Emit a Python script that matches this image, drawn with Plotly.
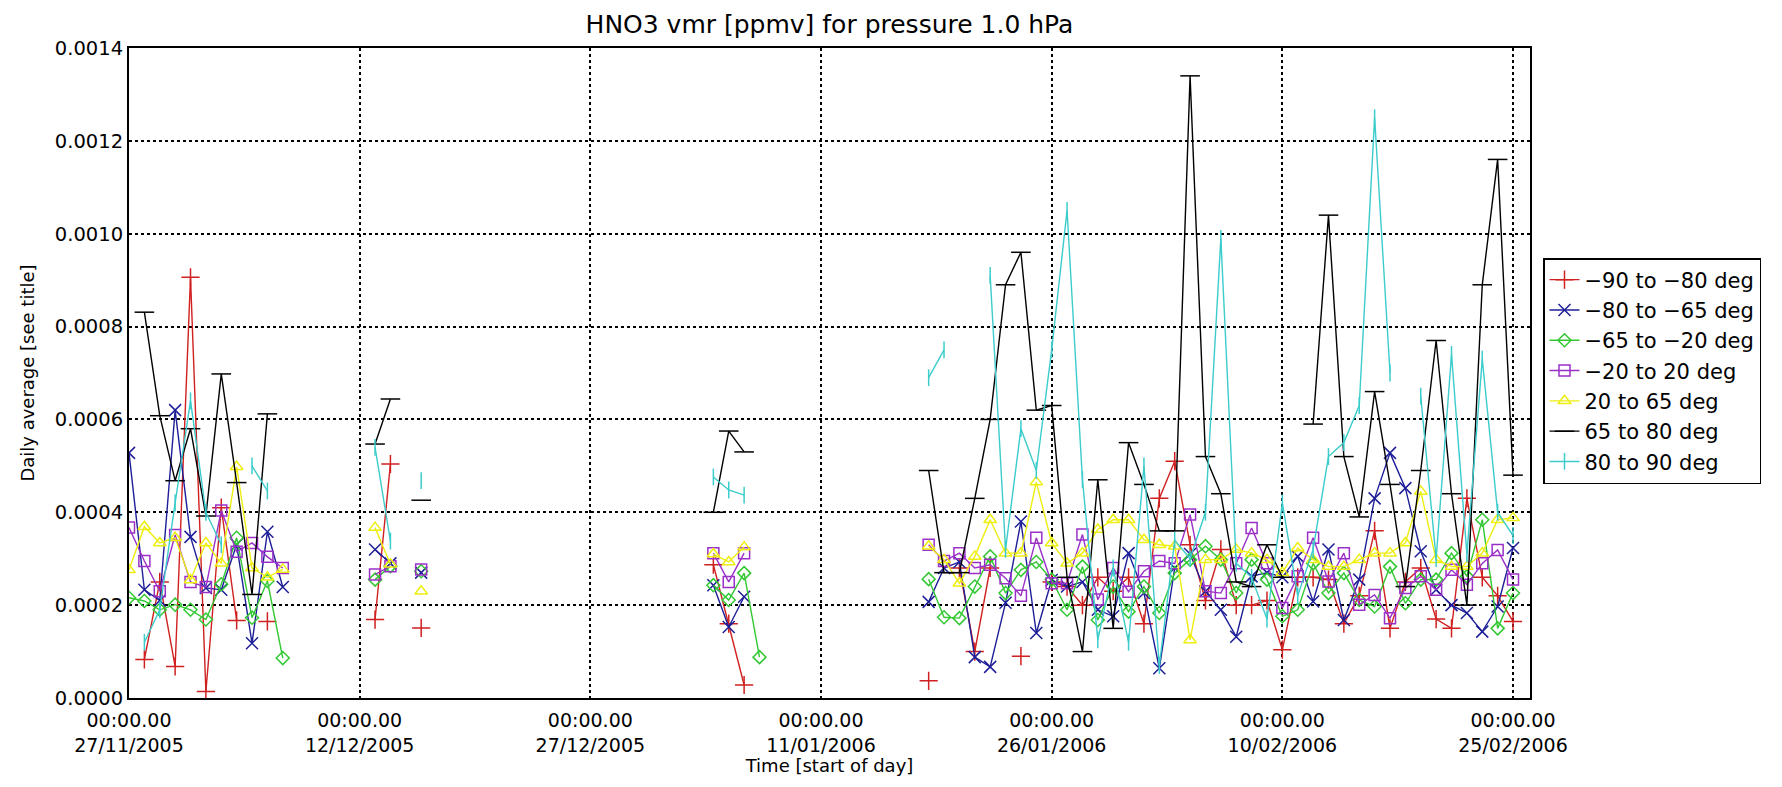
import pandas as pd
import plotly.graph_objects as go

# one entry per day from 27/11/2005 (index 0) to 25/02/2006 (index 90); None = no data
dates = pd.date_range("2005-11-27", periods=91, freq="D")
N = None

red = [N, 0.000083, 0.00025, 0.000068, 0.000906, 0.000014, 0.00041, 0.000167, N, 0.000165, N,
       N, N, N, N, N, 0.000169, 0.000504, N, 0.000151,
       N, N, N, N, N, N, N, N, N, N, N, N, N, N, N, N, N, N,
       0.000287, 0.00016, 0.000028, N,
       N, N, N, N, N, N, N, N, N, N,
       0.000037, N, 0.00028, 0.0001, 0.00028, N, 0.00009, N, 0.00025, 0.00024,
       0.0002, 0.00026, 0.00023, 0.00026, 0.00016, 0.00043, 0.00051, 0.00033, 0.00021, 0.00032,
       0.0002, 0.0002, 0.00021, 0.000104, 0.00026, 0.00026, 0.000255, 0.00016, 0.00022, 0.00036,
       0.00015, 0.00025, 0.00028, 0.00017, 0.00015, 0.00043, 0.00026, 0.00022, 0.000165]

blue = [0.000528, 0.000233, 0.00021, 0.00062, 0.000347, 0.000237, 0.000233, 0.00033, 0.000118, 0.000358, 0.000239,
        N, N, N, N, N, 0.00032, 0.00029, N, 0.00027,
        N, N, N, N, N, N, N, N, N, N, N, N, N, N, N, N, N, N,
        0.000243, 0.000153, 0.000218, N,
        N, N, N, N, N, N, N, N, N, N,
        0.000207, 0.00028, 0.000293, 0.000088, 0.000067, 0.000205, 0.00038, 0.00014, 0.000254, 0.00024,
        0.00025, 0.00019, 0.000176, 0.000312, 0.000226, 0.000064, 0.00028, 0.00031, 0.00023, 0.00019,
        0.000132, 0.000262, 0.00027, 0.00026, 0.000305, 0.000208, 0.00032, 0.000168, 0.000255, 0.00043,
        0.000528, 0.000452, 0.000316, 0.000233, 0.0002, 0.000183, 0.000143, 0.000197, 0.000323]

green = [0.000216, 0.000209, 0.00019, 0.000201, 0.00019, 0.000169, 0.000245, 0.000345, 0.000173, 0.000252, 0.000086,
         N, N, N, N, N, 0.000255, 0.000284, N, 0.000273,
         N, N, N, N, N, N, N, N, N, N, N, N, N, N, N, N, N, N,
         0.000243, 0.000211, 0.000269, 0.000088,
         N, N, N, N, N, N, N, N, N, N,
         0.000256, 0.000174, 0.000172, 0.00024, 0.000305, 0.000226, 0.000276, 0.000293, 0.000255, 0.00019,
         0.000283, 0.000168, 0.00024, 0.000186, 0.00024, 0.000183, 0.000269, 0.000298, 0.000327, 0.000298,
         0.000226, 0.000298, 0.000255, 0.000176, 0.00019, 0.00029, 0.000226, 0.000269, 0.000211, 0.000197,
         0.000283, 0.000204, 0.000255, 0.000255, 0.000312, 0.000262, 0.000384, 0.00015, 0.000226]

purple = [0.000367, 0.000295, 0.00023, 0.000351, 0.00025, 0.000239, 0.000404, 0.000315, 0.000334, 0.000304, 0.00028,
          N, N, N, N, N, 0.000266, 0.000284, N, 0.000277,
          N, N, N, N, N, N, N, N, N, N, N, N, N, N, N, N, N, N,
          0.000312, 0.00025, 0.000312, N,
          N, N, N, N, N, N, N, N, N, N,
          0.00033, 0.000295, 0.000312, 0.00028, 0.000287, 0.000258, 0.00022, 0.000345, 0.000247, 0.000247,
          0.000352, 0.000212, 0.00028, 0.000229, 0.000273, 0.000295, 0.00029, 0.000395, 0.00023, 0.000226,
          0.00029, 0.000366, 0.00029, 0.000194, 0.000262, 0.000345, 0.000251, 0.000312, 0.000201, 0.000222,
          0.000172, 0.000237, 0.000262, 0.000233, 0.000276, 0.000244, 0.00029, 0.000319, 0.000255]

yellow = [0.000276, 0.000369, 0.000334, 0.000345, 0.000254, 0.000334, 0.00029, 0.000498, 0.00028, 0.00026, 0.000277,
          N, N, N, N, N, 0.000367, 0.000288, N, 0.00023,
          N, N, N, N, N, N, N, N, N, N, N, N, N, N, N, N, N, N,
          0.00031, 0.000293, 0.000325, N,
          N, N, N, N, N, N, N, N, N, N,
          0.000327, 0.000298, 0.000247, 0.000305, 0.000384, 0.000312, 0.000312, 0.000465, 0.000334, 0.00029,
          0.000312, 0.000363, 0.000384, 0.000384, 0.000341, 0.00033, 0.000327, 0.000125, 0.000298, 0.000298,
          0.00032, 0.000312, 0.000298, 0.00027, 0.000323, 0.000298, 0.000283, 0.000283, 0.000298, 0.000312,
          0.000312, 0.000334, 0.000445, 0.000298, 0.000283, 0.000283, 0.000312, 0.000384, 0.000388]

black = [N, 0.000831, 0.000608, 0.000468, 0.00058, 0.000392, 0.000698, 0.000464, 0.000223, 0.000612, N,
         N, N, N, N, N, 0.000547, 0.000644, N, 0.000426,
         N, N, N, N, N, N, N, N, N, N, N, N, N, N, N, N, N, N,
         0.0004, 0.000575, 0.00053, N,
         N, N, N, N, N, N, N, N, N, N,
         0.00049, 0.00027, 0.00027, 0.00043, 0.0006, 0.00089, 0.00096, 0.00062, 0.00063, 0.00026,
         0.0001, 0.00047, 0.00015, 0.00055, 0.00046, 0.00036, 0.00036, 0.00134, 0.00052, 0.00044,
         0.00025, 0.00024, 0.00033, 0.00026, N, 0.00059, 0.00104, 0.00052, 0.00039, 0.00066,
         0.00046, 0.00024, 0.00049, 0.00077, 0.00044, 0.0002, 0.00089, 0.00116, 0.00048]

cyan = [N, 0.00012, 0.00019, 0.00042, 0.00064, 0.0004, 0.00033, N, 0.0005, 0.000446, N,
        N, N, N, N, N, 0.00054, 0.000338, N, 0.000468,
        N, N, N, N, N, N, N, N, N, N, N, N, N, N, N, N, N, N,
        0.000476, 0.000448, 0.000437, N,
        N, N, N, N, N, N, N, N, N, N,
        0.00069, 0.00075, N, N, 0.00091, 0.00032, 0.00058, 0.00049, 0.00075, 0.00105,
        0.00047, 0.000125, 0.00028, 0.00012, 0.0005, 0.00007, 0.00034, 0.0003, 0.0004, 0.00099,
        0.00029, 0.00026, 0.00017, 0.00042, 0.00022, 0.00032, 0.00052, 0.00055, 0.00063, 0.00125,
        0.0007, N, 0.00065, 0.0003, 0.00074, 0.00031, 0.00073, 0.0004, 0.00035]

names = ["\u221290 to \u221280 deg", "\u221280 to \u221265 deg", "\u221265 to \u221220 deg",
         "\u221220 to 20 deg", "20 to 65 deg", "65 to 80 deg", "80 to 90 deg"]
series = [red, blue, green, purple, yellow, black, cyan]
colors = ["#d02020", "#1e1e98", "#33c833", "#9a30c8", "#eeee10", "#000000", "#3ccccc"]
symbols = ["cross-thin", "x-thin", "diamond-open", "square-open", "triangle-up-open", "line-ew", "line-ns"]
msizes = [13, 12, 10, 11, 11, 14, 12]

tick_dates = ["2005-11-27", "2005-12-12", "2005-12-27", "2006-01-11", "2006-01-26", "2006-02-10", "2006-02-25"]
tick_text = ["00:00.00<br>27/11/2005", "00:00.00<br>12/12/2005", "00:00.00<br>27/12/2005",
             "00:00.00<br>11/01/2006", "00:00.00<br>26/01/2006", "00:00.00<br>10/02/2006",
             "00:00.00<br>25/02/2006"]
y_ticks = [0.0, 0.0002, 0.0004, 0.0006, 0.0008, 0.0010, 0.0012, 0.0014]

FONT = "DejaVu Sans"
fig = go.Figure()
for name, vals, col, sym, ms in zip(names, series, colors, symbols, msizes):
    fig.add_trace(go.Scatter(
        x=dates, y=vals, name=name, mode="lines+markers", connectgaps=False,
        line=dict(color=col, width=1.4),
        marker=dict(symbol=sym, size=ms, color=col, line=dict(color=col, width=1.5)),
    ))

grid = dict(showgrid=True, gridcolor="black", griddash="dot", gridwidth=1.5,
            showline=True, linecolor="black", linewidth=2, mirror=True,
            zeroline=False, ticks="", automargin=False)

# the page body has an 8px margin, so the figure is sized to fill the rest of the window
W, H = 1774, 779
fig.update_layout(
    width=W, height=H,
    margin=dict(l=121, r=252, t=40, b=89),
    paper_bgcolor="white", plot_bgcolor="white",
    font=dict(family=FONT, color="black", size=18),
    title=dict(text="HNO3 vmr [ppmv] for pressure 1.0 hPa", xref="paper", x=0.5, xanchor="center",
               yref="container", y=1 - 16 / H, yanchor="middle", font=dict(size=25)),
    xaxis=dict(type="date", range=["2005-11-27", "2006-02-26 02:30"],
               tickvals=tick_dates, ticktext=tick_text, tickfont=dict(size=19), ticklabelstandoff=4,
               title=dict(text="Time [start of day]", font=dict(size=18), standoff=2), **grid),
    yaxis=dict(range=[0, 0.0014], tickvals=y_ticks, ticktext=[f"{v:.4f}" for v in y_ticks],
               tickfont=dict(size=19.5),
               title=dict(text="Daily average [see title]", font=dict(size=18), standoff=16), **grid),
    legend=dict(x=(1543 - 129) / 1401, y=(698 - 258) / 650, xanchor="left", yanchor="top",
                bgcolor="white", bordercolor="black", borderwidth=1.5,
                font=dict(size=21, family=FONT), itemwidth=30, tracegroupgap=0),
    showlegend=True,
)

fig.write_html("out.html")
